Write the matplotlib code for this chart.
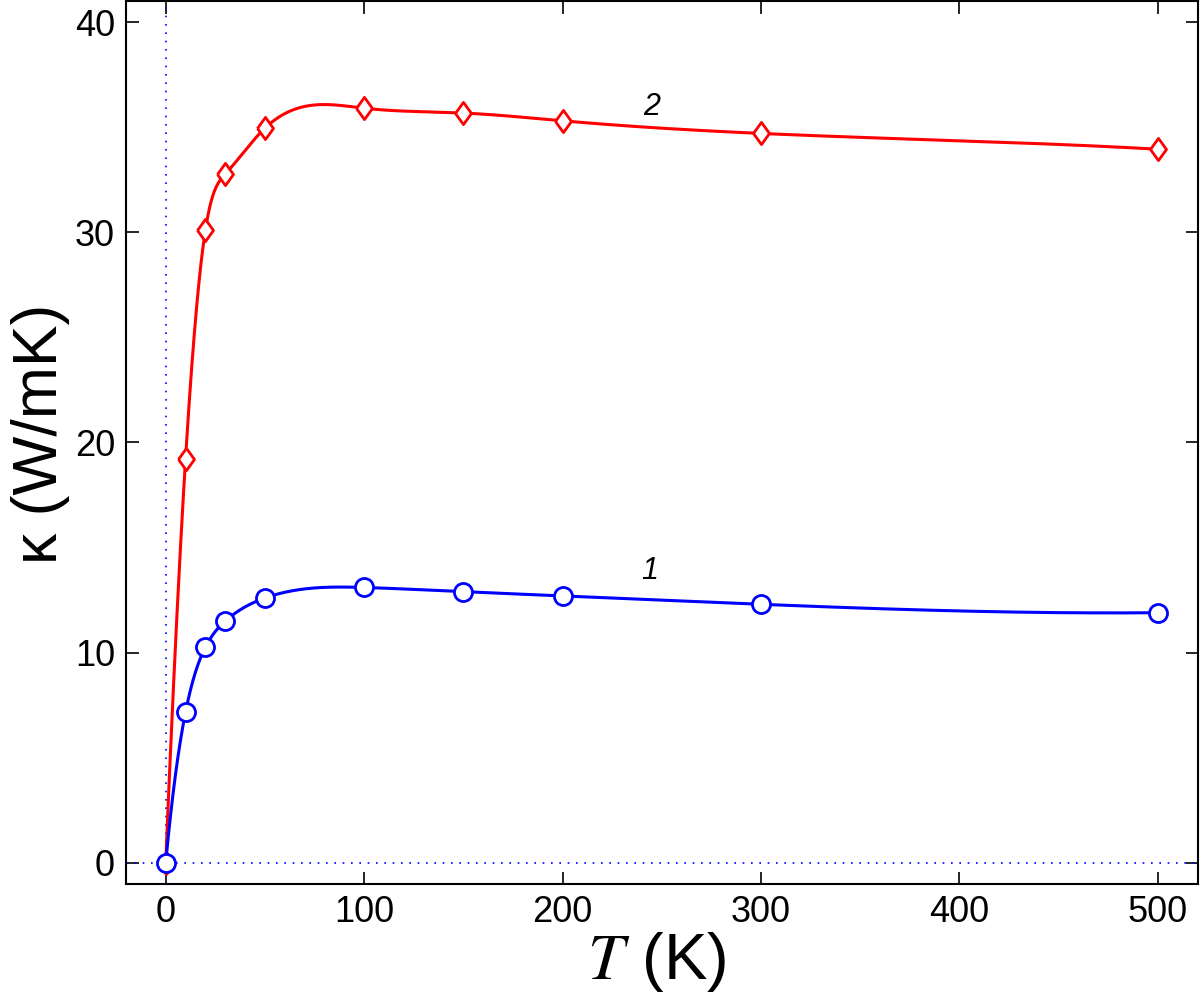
import numpy as np
import matplotlib
matplotlib.use("Agg")
import matplotlib.pyplot as plt

# temperature points (K)
T = [0, 10, 20, 30, 50, 100, 150, 200, 300, 500]
# thermal conductivity, curve 1 (blue) and curve 2 (red), W/mK
kappa1 = [0.0, 7.17, 10.26, 11.5, 12.6, 13.1, 12.9, 12.7, 12.3, 11.9]
kappa2 = [0.0, 19.2, 30.1, 32.76, 34.95, 35.9, 35.67, 35.3, 34.7, 33.95]
curve_labels = ["1", "2"]


def spline(x, y, xx):
    """Not-a-knot cubic spline (like MATLAB's spline)."""
    x = np.asarray(x, float)
    y = np.asarray(y, float)
    n = len(x)
    h = np.diff(x)
    d = np.diff(y) / h
    A = np.zeros((n, n))
    r = np.zeros(n)
    # not-a-knot end conditions on second derivatives M
    A[0, 0], A[0, 1], A[0, 2] = h[1], -(h[0] + h[1]), h[0]
    A[-1, -3], A[-1, -2], A[-1, -1] = h[-1], -(h[-2] + h[-1]), h[-2]
    for i in range(1, n - 1):
        A[i, i - 1] = h[i - 1]
        A[i, i] = 2 * (h[i - 1] + h[i])
        A[i, i + 1] = h[i]
        r[i] = 6 * (d[i] - d[i - 1])
    M = np.linalg.solve(A, r)
    idx = np.clip(np.searchsorted(x, xx) - 1, 0, n - 2)
    x0, x1 = x[idx], x[idx + 1]
    hi = h[idx]
    a = (x1 - xx) / hi
    b = (xx - x0) / hi
    return (a * y[idx] + b * y[idx + 1]
            + ((a**3 - a) * M[idx] + (b**3 - b) * M[idx + 1]) * hi**2 / 6)


plt.rcParams['font.family'] = ['Liberation Sans', 'DejaVu Sans']
plt.rcParams['mathtext.fontset'] = 'stix'

fig = plt.figure(figsize=(12, 10.01), dpi=100)
ax = fig.add_axes([0.105, 0.117, 0.893, 0.882])

ax.axhline(0, color='blue', linestyle=(0, (1, 4)), linewidth=1.2)
ax.axvline(0, color='blue', linestyle=(0, (1, 4)), linewidth=1.2)

tt = np.linspace(0, 500, 2001)
diamond = [(-0.72, 0), (0, 1), (0.72, 0), (0, -1), (-0.72, 0)]

ax.plot(tt, spline(T, kappa2, tt), color='red', linewidth=2.2)
ax.plot(T, kappa2, linestyle='none', marker=diamond, markersize=16,
        markerfacecolor='white', markeredgecolor='red', markeredgewidth=2)

ax.plot(tt, spline(T, kappa1, tt), color='blue', linewidth=2.2)
ax.plot(T, kappa1, linestyle='none', marker='o', markersize=13,
        markerfacecolor='white', markeredgecolor='blue', markeredgewidth=2)

ax.text(244, 13.9, curve_labels[0], fontsize=22, style='italic',
        ha='center', va='center')
ax.text(245, 35.95, curve_labels[1], fontsize=22, style='italic',
        ha='center', va='center')

ax.set_xlim(-20, 520)
ax.set_ylim(-1, 41)
ax.set_xticks([0, 100, 200, 300, 400, 500])
ax.set_yticks([0, 10, 20, 30, 40])
ax.tick_params(direction='in', top=True, right=True, length=9, width=1.2,
               labelsize=26, pad=8)
for s in ax.spines.values():
    s.set_linewidth(1.5)

ax.set_xlabel(r"$T$ (K)", fontsize=47)
ax.set_ylabel("κ (W/mK)", fontsize=45)
ax.xaxis.set_label_coords(0.495, -0.052)
ax.yaxis.set_label_coords(-0.052, 0.51)

fig.savefig("out.png", dpi=100)
